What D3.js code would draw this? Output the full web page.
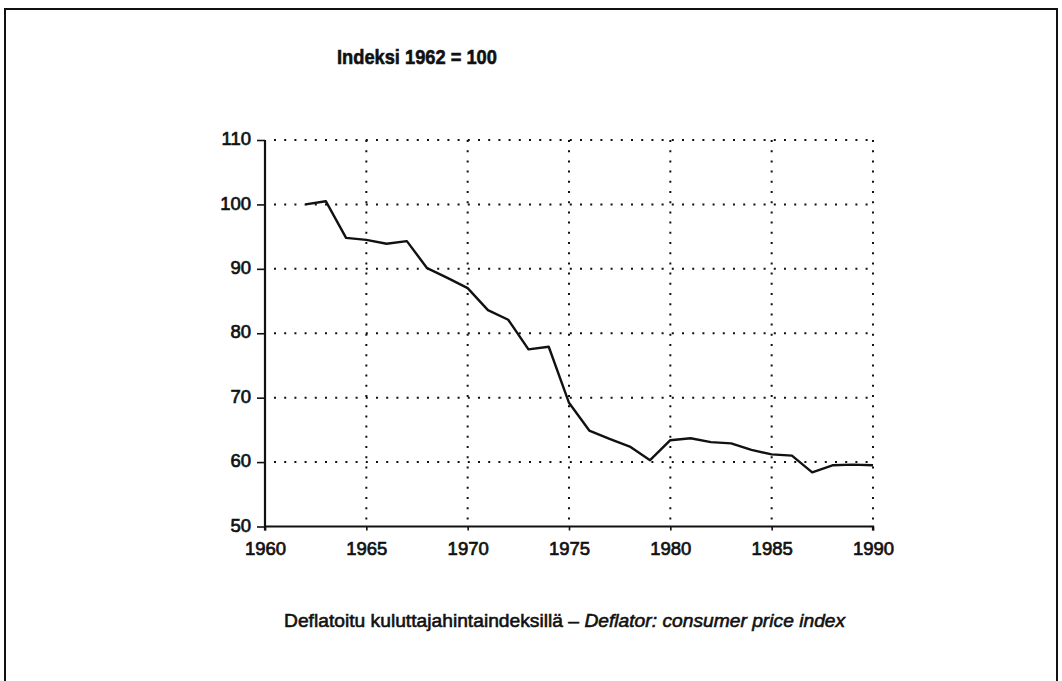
<!DOCTYPE html>
<html>
<head>
<meta charset="utf-8">
<script src="https://cdn.jsdelivr.net/npm/d3@7"></script>
<style>
  html, body { margin: 0; padding: 0; background: #fff; }
  svg { display: block; }
</style>
</head>
<body>
<svg id="chart" width="1062" height="681"></svg>
<script>
// Real price index, 1962 = 100 (deflated by the consumer price index)
const years = [1962, 1963, 1964, 1965, 1966, 1967, 1968, 1969, 1970, 1971,
               1972, 1973, 1974, 1975, 1976, 1977, 1978, 1979, 1980, 1981,
               1982, 1983, 1984, 1985, 1986, 1987, 1988, 1989, 1990];
const indexValues = [100.0, 100.5, 94.8, 94.5, 93.9, 94.3, 90.1, 88.6, 87.0, 83.6,
                     82.1, 77.5, 77.9, 69.2, 64.9, 63.6, 62.4, 60.3, 63.4, 63.7,
                     63.1, 62.9, 61.9, 61.2, 61.0, 58.4, 59.5, 59.6, 59.5];
const xTicks = [1960, 1965, 1970, 1975, 1980, 1985, 1990];
const yTicks = [50, 60, 70, 80, 90, 100, 110];
const titleText = "Indeksi 1962 = 100";
const captionFi = "Deflatoitu kuluttajahintaindeksillä – ";
const captionEn = "Deflator: consumer price index";

const svg = d3.select("#chart");
const ink = "#111";
const numFont = "'Liberation Sans', Arial, sans-serif";
const narrowFont = "'Liberation Sans Narrow', 'Liberation Sans', Arial, sans-serif";

// Outer frame (open at the bottom edge)
svg.append("path")
  .attr("d", "M5,700 L5,9 L1057,9 L1057,700")
  .attr("fill", "none")
  .attr("stroke", ink)
  .attr("stroke-width", 2);

const x = d3.scaleLinear().domain([1960, 1990]).range([265, 873]);
const y = d3.scaleLinear().domain([50, 110]).range([526.5, 140]);

// Dotted grid
const dots = { stroke: "#111", "stroke-width": 2, "stroke-dasharray": "2,8.2" };
const grid = svg.append("g");
yTicks.filter(v => v > 50).forEach(v => {
  const l = grid.append("line")
    .attr("x1", x(1960) + 9).attr("x2", x(1990))
    .attr("y1", y(v)).attr("y2", y(v));
  Object.entries(dots).forEach(([k, val]) => l.attr(k, val));
});
xTicks.filter(v => v > 1960).forEach(v => {
  const l = grid.append("line")
    .attr("x1", x(v)).attr("x2", x(v))
    .attr("y1", y(110)).attr("y2", y(50) - 4);
  Object.entries(dots).forEach(([k, val]) => l.attr(k, val));
});

// Axes
const yAxis = d3.axisLeft(y).tickValues(yTicks).tickSize(8).tickPadding(6).tickFormat(d3.format("d"));
const xAxis = d3.axisBottom(x).tickValues(xTicks).tickSize(4).tickPadding(11).tickFormat(d3.format("d"));

const gy = svg.append("g").attr("transform", `translate(${x(1960)},0)`).call(yAxis);
const gx = svg.append("g").attr("transform", `translate(0,${y(50)})`).call(xAxis);

[gx, gy].forEach(g => {
  g.select(".domain").attr("stroke", ink).attr("stroke-width", 2.2);
  g.selectAll(".tick line").attr("stroke", ink).attr("stroke-width", 1.6);
  g.selectAll(".tick text")
    .attr("fill", ink)
    .attr("font-family", numFont)
    .attr("font-size", 18.5)
    .attr("stroke", ink)
    .attr("stroke-width", 0.7);
});
gy.select(".domain").attr("d", `M-0,${y(110)}H0V${y(50) + 4}`);
gx.select(".domain").attr("d", `M${x(1960)},0H${x(1990)}V4`);
gy.selectAll(".tick text").attr("dy", "0.25em");

// Index line
const line = d3.line()
  .x((d, i) => x(years[i]))
  .y(d => y(d));
svg.append("path")
  .datum(indexValues)
  .attr("d", line)
  .attr("fill", "none")
  .attr("stroke", ink)
  .attr("stroke-width", 2.4)
  .attr("stroke-linejoin", "round");

// Fit a text element horizontally into a target width (condensed face)
function fitWidth(sel, left, target) {
  const w = sel.node().getBBox().width;
  const k = target / w;
  sel.attr("transform", `translate(${left},0) scale(${k},1)`);
}

// Title
const title = svg.append("text")
  .attr("x", 0).attr("y", 64)
  .attr("font-family", narrowFont)
  .attr("font-weight", "bold")
  .attr("font-size", 21)
  .attr("fill", ink)
  .attr("stroke", ink)
  .attr("stroke-width", 0.6)
  .text(titleText);
fitWidth(title, 337, 160);

// Caption
const cap = svg.append("text")
  .attr("x", 0).attr("y", 627)
  .attr("font-family", narrowFont)
  .attr("font-size", 19)
  .attr("fill", ink)
  .attr("stroke", ink)
  .attr("stroke-width", 0.6);
cap.append("tspan").text(captionFi);
cap.append("tspan").attr("font-style", "italic").text(captionEn);
fitWidth(cap, 284, 563);
</script>
</body>
</html>
